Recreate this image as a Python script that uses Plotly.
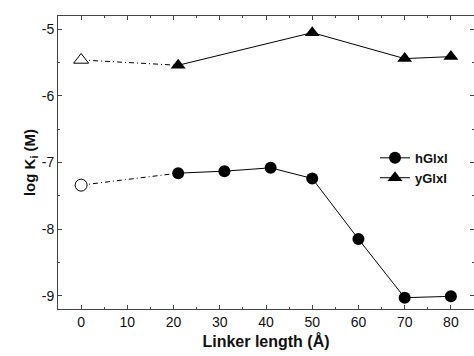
import plotly.graph_objects as go

# Data
h_linker = [0, 21, 31, 41, 50, 60, 70, 80]
h_logKi = [-7.34, -7.16, -7.13, -7.08, -7.24, -8.15, -9.03, -9.01]
y_linker = [0, 21, 50, 70, 80]
y_logKi = [-5.46, -5.54, -5.05, -5.44, -5.41]
x_ticks = [0, 10, 20, 30, 40, 50, 60, 70, 80]
y_ticks = [-5, -6, -7, -8, -9]
y_ticktext = ["-5", "-6", "-7", "-8", "-9"]

fig = go.Figure()

black = "#000000"
dash_pattern = "5px,3px,1px,3px"

# dash-dot reference segments (x=0 to first linker)
fig.add_trace(go.Scatter(x=h_linker[:2], y=h_logKi[:2], mode="lines",
                         line=dict(color=black, width=1, dash=dash_pattern),
                         showlegend=False, hoverinfo="skip"))
fig.add_trace(go.Scatter(x=y_linker[:2], y=y_logKi[:2], mode="lines",
                         line=dict(color=black, width=1, dash=dash_pattern),
                         showlegend=False, hoverinfo="skip"))

# main solid series
fig.add_trace(go.Scatter(x=h_linker[1:], y=h_logKi[1:], mode="lines+markers", name="<b>hGlxI</b>",
                         line=dict(color=black, width=1),
                         marker=dict(symbol="circle", size=12, color=black)))
fig.add_trace(go.Scatter(x=y_linker[1:], y=y_logKi[1:], mode="lines+markers", name="<b>yGlxI</b>",
                         line=dict(color=black, width=1),
                         marker=dict(symbol="triangle-up", size=13, color=black)))

# open markers at x=0
fig.add_trace(go.Scatter(x=h_linker[:1], y=h_logKi[:1], mode="markers", showlegend=False,
                         marker=dict(symbol="circle", size=12, color="white",
                                     line=dict(color=black, width=1))))
fig.add_trace(go.Scatter(x=y_linker[:1], y=y_logKi[:1], mode="markers", showlegend=False,
                         marker=dict(symbol="triangle-up", size=13, color="white",
                                     line=dict(color=black, width=1))))

axis_common = dict(showline=True, linecolor="#444444", linewidth=1, mirror="ticks",
                   ticks="inside", ticklen=4, tickcolor="#444444", showgrid=False,
                   zeroline=False, tickfont=dict(family="Arial, Liberation Sans", size=14, color="#111111"))

fig.update_xaxes(range=[-5, 85], tickvals=x_ticks,
                 minor=dict(ticks="inside", dtick=5, ticklen=2, tickcolor="#444444"),
                 title=dict(text="<b>Linker length (Å)</b>",
                            font=dict(family="Arial, Liberation Sans", size=16, color="#111111"),
                            standoff=7),
                 **axis_common)
fig.update_yaxes(range=[-9.2, -4.8], tickvals=y_ticks, ticktext=y_ticktext,
                 minor=dict(ticks="inside", dtick=0.5, tick0=-5, ticklen=2, tickcolor="#444444"),
                 title=dict(text="<b>log K<sub>i</sub> (M)</b>",
                            font=dict(family="Arial, Liberation Sans", size=15, color="#111111"),
                            standoff=2),
                 **axis_common)

fig.update_layout(width=474, height=356,
                  margin=dict(l=58, r=0, t=16, b=47),
                  paper_bgcolor="white", plot_bgcolor="white",
                  showlegend=True,
                  legend=dict(x=0.762, y=0.567, xanchor="left", yanchor="top",
                              bgcolor="rgba(0,0,0,0)", borderwidth=0,
                              font=dict(family="Arial, Liberation Sans", size=13, color="#111111"),
                              tracegroupgap=0, itemwidth=30),
                  font=dict(family="Arial, Liberation Sans"))

fig.write_html("out.html", config={"displayModeBar": False},
               post_script="document.body.style.margin='0px';document.body.style.overflow='hidden';")
